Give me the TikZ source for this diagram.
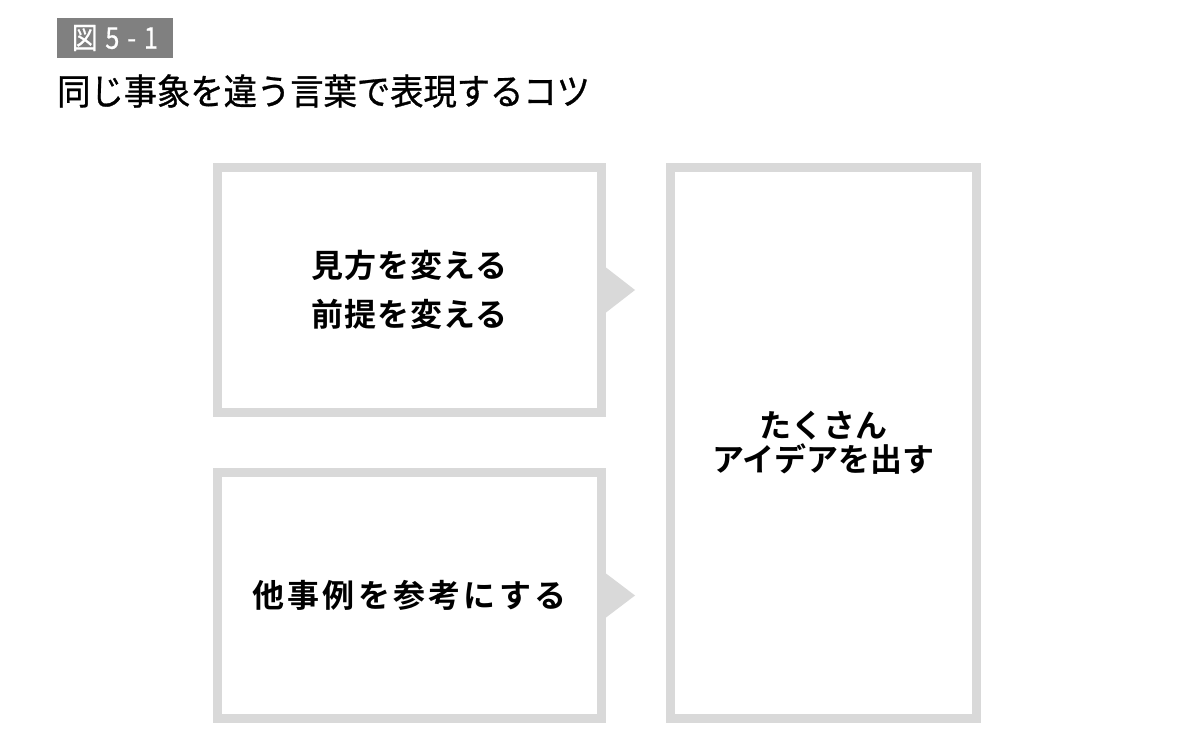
\documentclass[tikz,border=0pt]{standalone}
\usepackage{fontspec}
\setmainfont{Noto Sans CJK JP}[BoldFont={Noto Sans CJK JP Bold}]
\newfontfamily\jpbold{Noto Sans CJK JP Bold}
\definecolor{frame}{HTML}{D9D9D9}
\definecolor{tag}{HTML}{808080}
\begin{document}
\begin{tikzpicture}[x=1pt,y=-1pt,
  panel/.style={draw=frame,line width=9pt,fill=white,inner sep=0pt,align=center,
    font={\jpbold\fontsize{32}{49}\selectfont}},
  pointer/.style={fill=frame,draw=none}]
\useasboundingbox[fill=white] (0,0) rectangle (1200,741);
% heading
\node[fill=tag,text=white,minimum width=116pt,minimum height=40pt,inner sep=0pt,
  font={\fontsize{30}{30}\selectfont\addfontfeature{FakeStretch=0.85,LetterSpace=26,FakeBold=0.6}}] (tag) at (115,38) {図5-1};
\node[anchor=west,inner sep=0pt,font={\fontsize{36}{36}\selectfont\addfontfeature{FakeStretch=0.925,FakeBold=0.8}}] (title) at (57,91)
  {同じ事象を違う言葉で表現するコツ};
% boxes
\node[panel,minimum width=384pt,minimum height=245pt] (b1) at (409.5,290)
  {\addfontfeature{LetterSpace=3}見方を変える\\\addfontfeature{LetterSpace=3}前提を変える};
\node[panel,minimum width=384pt,minimum height=246pt] (b2) at (409.5,595.5)
  {\addfontfeature{LetterSpace=10}他事例を参考にする};
\node[panel,minimum width=306pt,minimum height=551pt,
  font={\jpbold\fontsize{32}{34}\selectfont}] (b3) at (823.5,443)
  {たくさん\\アイデアを出す};
% pointers
\fill[pointer] ([yshift=-22.5pt]b1.east) -- ([xshift=29pt]b1.east) -- ([yshift=22.5pt]b1.east) -- cycle;
\fill[pointer] ([yshift=-22pt]b2.east) -- ([xshift=29pt]b2.east) -- ([yshift=22pt]b2.east) -- cycle;
\end{tikzpicture}
\end{document}
